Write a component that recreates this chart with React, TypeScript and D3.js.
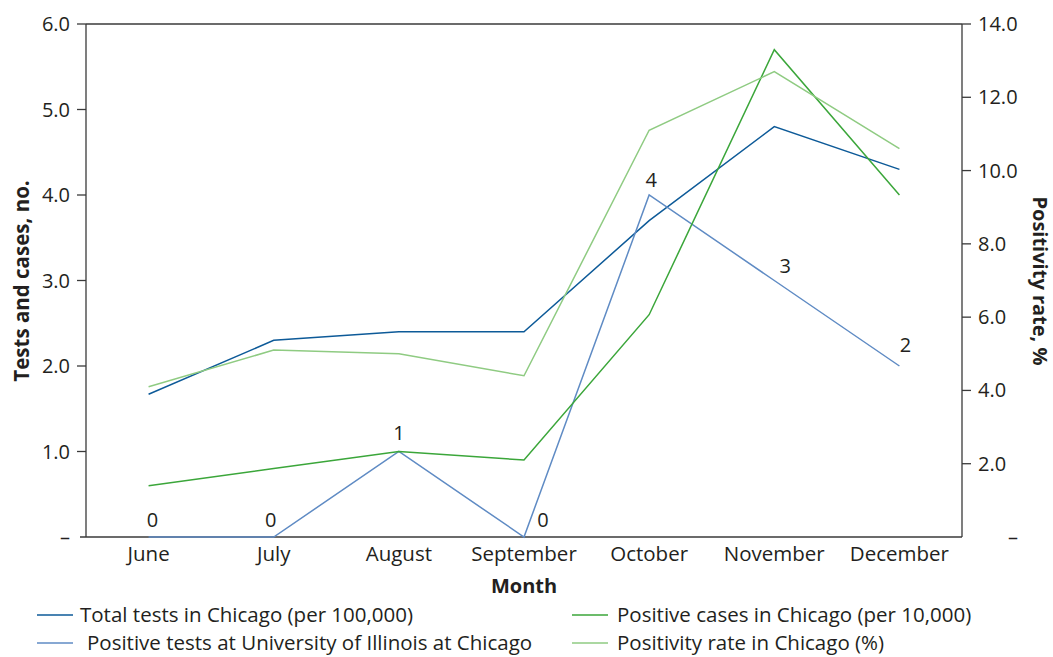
import React from 'react';
import * as d3 from 'd3';

const months = ['June', 'July', 'August', 'September', 'October', 'November', 'December'];
const totalTests = [1.67, 2.3, 2.4, 2.4, 3.7, 4.8, 4.3];
const uicPositive = [0, 0, 1, 0, 4, 3, 2];
const positiveCases = [0.6, 0.8, 1.0, 0.9, 2.6, 5.7, 4.0];
const positivityRate = [4.1, 5.1, 5.0, 4.4, 11.1, 12.7, 10.6];
const leftTicks = [0, 1, 2, 3, 4, 5, 6];
const rightTicks = [0, 2, 4, 6, 8, 10, 12, 14];

// label nudges for the UIC point labels (dx, dy)
const labelOffsets: [number, number][] = [
  [4, -17], [-3, -17], [0, -19], [19, -17], [2, -15], [11, -15], [6, -21],
];

const FONT = '"Open Sans", "Noto Sans", sans-serif';
const TEXT = '#231f20';

export default function App() {
  const width = 1053;
  const height = 657;
  const left = 86;
  const right = 962;
  const top = 24;
  const bottom = 537;

  const x = d3.scalePoint<string>().domain(months).range([left, right]).padding(0.5);
  const yL = d3.scaleLinear().domain([0, 6]).range([bottom, top]);
  const yR = d3.scaleLinear().domain([0, 14]).range([bottom, top]);

  const lineL = d3.line<number>().x((d, i) => x(months[i])!).y((d) => yL(d));
  const lineR = d3.line<number>().x((d, i) => x(months[i])!).y((d) => yR(d));

  const series = [
    { name: 'Total tests in Chicago (per 100,000)', data: totalTests, color: '#0d5a98', path: lineL(totalTests) },
    { name: 'Positive tests at University of Illinois at Chicago', data: uicPositive, color: '#5f8bc4', path: lineL(uicPositive) },
    { name: 'Positive cases in Chicago (per 10,000)', data: positiveCases, color: '#3ba63a', path: lineL(positiveCases) },
    { name: 'Positivity rate in Chicago (%)', data: positivityRate, color: '#8fcb82', path: lineR(positivityRate) },
  ];

  const legend = [
    { s: series[0], lx: 37, tx: 80, y: 615 },
    { s: series[2], lx: 572, tx: 617, y: 615 },
    { s: series[1], lx: 37, tx: 87, y: 643 },
    { s: series[3], lx: 572, tx: 617, y: 643 },
  ];

  return (
    <svg width={width} height={height} style={{ position: 'absolute', left: 0, top: 0 }} fontFamily={FONT}>
      <rect width={width} height={height} fill="#fff" />
      {/* frame */}
      <line x1={left} x2={right} y1={top} y2={top} stroke="#3a3a3a" strokeWidth={1.3} />
      <line x1={left - 6} x2={right} y1={bottom} y2={bottom} stroke="#3a3a3a" strokeWidth={1.3} />
      <line x1={left} x2={left} y1={top} y2={bottom} stroke="#3a3a3a" strokeWidth={1.3} />
      <line x1={right} x2={right} y1={top} y2={bottom} stroke="#3a3a3a" strokeWidth={1.3} />

      {/* left axis */}
      {leftTicks.map((t) => (
        <g key={'l' + t}>
          {t > 0 && <line x1={left - 9} x2={left} y1={yL(t)} y2={yL(t)} stroke="#3a3a3a" strokeWidth={1.3} />}
          <text x={70} y={yL(t)} dy="0.35em" textAnchor="end" fontSize={20} fill={TEXT}>
            {t > 0 ? t.toFixed(1) : '–'}
          </text>
        </g>
      ))}
      {/* right axis */}
      {rightTicks.map((t) => (
        <g key={'r' + t}>
          {t > 0 && <line x1={right} x2={right + 9} y1={yR(t)} y2={yR(t)} stroke="#3a3a3a" strokeWidth={1.3} />}
          <text x={t > 0 ? 978 : 1008} y={yR(t)} dy="0.35em" textAnchor="start" fontSize={20} fill={TEXT}>
            {t > 0 ? t.toFixed(1) : '–'}
          </text>
        </g>
      ))}

      {/* x labels */}
      {months.map((m) => (
        <text key={m} x={x(m)} y={554} dy="0.35em" textAnchor="middle" fontSize={20.5} fill={TEXT}>
          {m}
        </text>
      ))}

      {/* axis titles */}
      <text x={524} y={586} dy="0.35em" textAnchor="middle" fontSize={20} fontWeight="bold" fill={TEXT}>
        Month
      </text>
      <text transform="translate(22,281) rotate(-90)" textAnchor="middle" dy="0.35em" fontSize={20.5} fontWeight="bold" fill={TEXT}>
        Tests and cases, no.
      </text>
      <text transform="translate(1040,281) rotate(90)" textAnchor="middle" dy="0.35em" fontSize={20} fontWeight="bold" fill={TEXT}>
        Positivity rate, %
      </text>

      {/* lines */}
      {series.map((s) => (
        <path key={s.name} d={s.path!} fill="none" stroke={s.color} strokeWidth={1.5} />
      ))}

      {/* UIC data labels */}
      {uicPositive.map((v, i) => (
        <text
          key={'lab' + i}
          x={x(months[i])! + labelOffsets[i][0]}
          y={yL(v) + labelOffsets[i][1]}
          dy="0.35em"
          textAnchor="middle"
          fontSize={20}
          fill={TEXT}
        >
          {v}
        </text>
      ))}

      {/* legend */}
      {legend.map((l) => (
        <g key={'lg' + l.s.name}>
          <line x1={l.lx} x2={l.lx + 36} y1={l.y} y2={l.y} stroke={l.s.color} strokeWidth={1.5} />
          <text x={l.tx} y={l.y} dy="0.35em" fontSize={20.5} fill={TEXT}>
            {l.s.name}
          </text>
        </g>
      ))}
    </svg>
  );
}
